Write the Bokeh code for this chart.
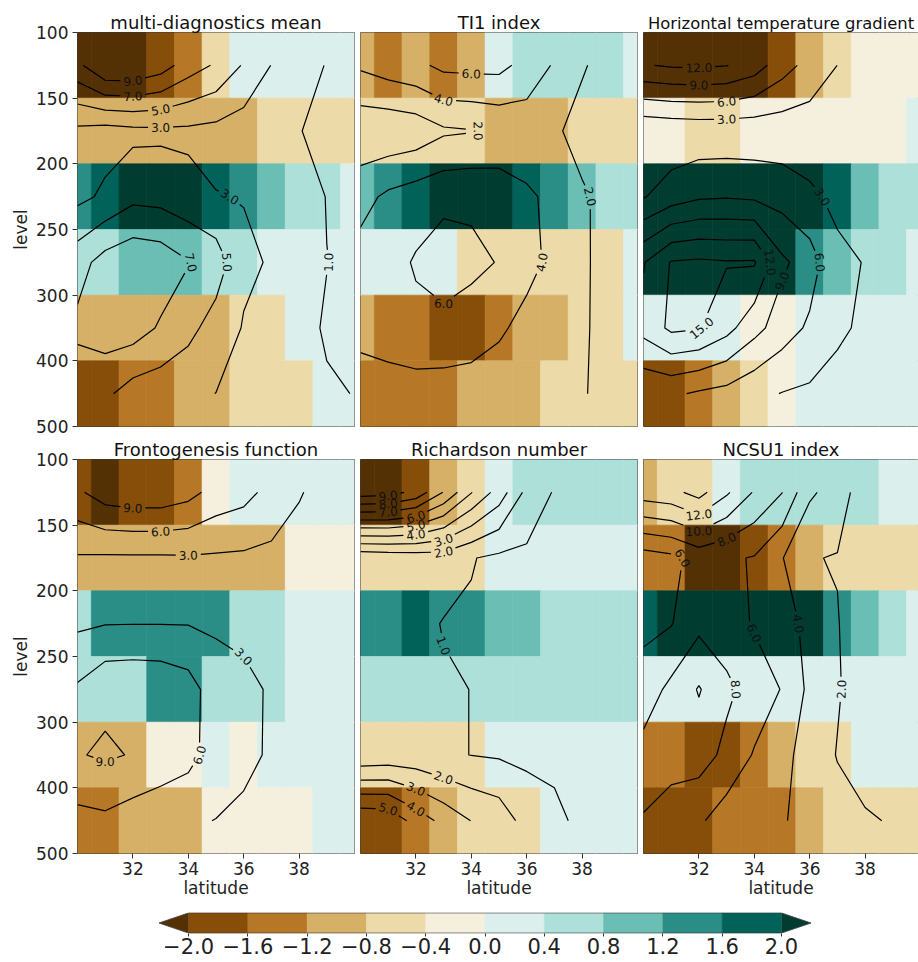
import math
import numpy as np
from bokeh.plotting import figure
from bokeh.models import Range1d, FixedTicker, LinearColorMapper, ColumnDataSource
from bokeh.layouts import column, row
from bokeh.embed import file_html
from bokeh.resources import INLINE
from bokeh.core.properties import value

try:
    from bokeh.plotting.contour import contour_data
except Exception:  # pragma: no cover
    contour_data = None

FONT = "DejaVu Sans"

# ---------------------------------------------------------------- data
latitudes = [30, 31, 32, 33, 34, 35, 36, 37, 38, 39, 40]
level_edges = [100, 150, 200, 250, 300, 400, 500]
lat_ticks = [32, 34, 36, 38]
cbar_bounds = [-2.0, -1.6, -1.2, -0.8, -0.4, 0.0, 0.4, 0.8, 1.2, 1.6, 2.0]
cbar_palette = ["#874e0a", "#b67826", "#d6b067", "#eddaa9", "#f5efde",
                "#dbefec", "#ade0d8", "#6bbeb3", "#2b8e86", "#01625a"]
under_color = "#543005"
over_color = "#003c30"

panel_titles = ["multi-diagnostics mean", "TI1 index", "Horizontal temperature gradient",
                "Frontogenesis function", "Richardson number", "NCSU1 index"]
title_sizes = [18, 18, 16.4, 18, 18, 18]

# shaded anomalies: rows = layers 100-150,150-200,200-250,250-300,300-400,400-500; cols = latitudes
shade_mean = [
    [-2.2, -2.2, -2.2, -1.8, -1.4, -0.6, 0.2, 0.2, 0.2, 0.2, 0.2],
    [-1.0, -1.0, -1.0, -1.0, -1.0, -1.0, -1.0, -0.6, -0.6, -0.6, -0.6],
    [1.4, 1.8, 2.2, 2.2, 2.2, 1.8, 1.4, 1.0, 0.6, 0.6, 0.2],
    [0.6, 0.6, 1.0, 1.0, 1.0, 0.6, 0.6, 0.2, 0.2, 0.2, 0.2],
    [-1.0, -1.0, -1.0, -1.0, -1.0, -1.0, -0.6, -0.6, 0.2, 0.2, 0.2],
    [-1.8, -1.8, -1.4, -1.4, -1.0, -1.0, -0.6, -0.6, -0.6, 0.2, 0.2],
]
shade_ti1 = [
    [-1.0, -1.4, -1.0, -1.4, -1.0, 0.2, 0.6, 0.6, 0.6, 0.6, 0.2],
    [-0.6, -0.6, -0.6, -0.6, -0.6, -1.0, -1.0, -1.0, -0.6, -0.6, -0.6],
    [1.0, 1.4, 1.8, 2.2, 2.2, 2.2, 1.8, 1.4, 1.0, 0.6, 0.6],
    [0.2, 0.2, 0.2, 0.2, -0.6, -0.6, -0.6, -0.6, -0.6, -0.6, 0.2],
    [-1.0, -1.4, -1.4, -1.8, -1.8, -1.4, -1.0, -1.0, -0.6, -0.6, 0.2],
    [-1.4, -1.4, -1.4, -1.4, -1.0, -1.0, -1.0, -0.6, -0.6, -0.6, -0.6],
]
shade_htg = [
    [-2.2, -2.2, -2.2, -2.2, -2.2, -1.8, -1.0, -0.6, -0.2, -0.2, -0.2],
    [-0.2, -0.2, -0.6, -0.6, -0.2, -0.2, -0.2, -0.2, -0.2, -0.2, 0.2],
    [2.2, 2.2, 2.2, 2.2, 2.2, 2.2, 2.2, 1.8, 1.0, 0.6, 0.6],
    [2.2, 2.2, 2.2, 2.2, 2.2, 2.2, 1.4, 1.0, 0.6, 0.6, 0.2],
    [0.2, 0.2, 0.2, 0.2, -0.2, -0.2, 0.2, 0.2, 0.2, 0.2, 0.2],
    [-1.8, -1.8, -1.4, -1.0, -0.6, -0.2, 0.2, 0.2, 0.2, 0.2, 0.2],
]
shade_fronto = [
    [-1.8, -2.2, -1.8, -1.8, -1.4, -0.2, 0.2, 0.2, 0.2, 0.2, 0.2],
    [-1.0, -1.0, -1.0, -1.0, -1.0, -1.0, -1.0, -1.0, -0.2, -0.2, -0.2],
    [0.6, 1.4, 1.4, 1.4, 1.4, 1.4, 0.6, 0.6, 0.2, 0.2, 0.2],
    [0.6, 0.6, 0.6, 1.4, 1.4, 0.6, 0.6, 0.6, 0.2, 0.2, 0.2],
    [-1.0, -1.0, -1.0, -0.2, -0.2, 0.2, -0.2, 0.2, 0.2, 0.2, 0.2],
    [-1.4, -1.4, -1.0, -1.0, -1.0, -0.2, -0.2, -0.2, -0.2, 0.2, 0.2],
]
shade_rich = [
    [-2.2, -2.2, -1.8, -1.0, -0.6, 0.2, 0.6, 0.6, 0.6, 0.6, 0.6],
    [-0.6, -0.6, -0.6, -0.6, -0.6, 0.2, 0.2, 0.2, 0.2, 0.2, 0.2],
    [1.4, 1.4, 1.8, 1.4, 1.4, 1.0, 1.0, 0.6, 0.6, 0.6, 0.6],
    [0.6, 0.6, 0.6, 0.6, 0.6, 0.6, 0.6, 0.6, 0.6, 0.6, 0.6],
    [-0.6, -0.6, -0.6, -0.6, -0.6, 0.2, 0.2, 0.2, 0.2, 0.2, 0.2],
    [-1.8, -1.8, -1.4, -1.0, -0.6, -0.6, -0.6, 0.2, 0.2, 0.2, 0.2],
]
shade_ncsu = [
    [-1.0, -0.6, -0.6, 0.2, 0.6, 0.6, 0.6, 0.6, 0.6, 0.2, 0.2],
    [-1.4, -1.4, -2.2, -2.2, -1.8, -1.4, -1.0, -0.6, -0.6, -0.6, -0.6],
    [1.8, 2.2, 2.2, 2.2, 2.2, 2.2, 2.2, 1.4, 1.0, 0.6, 0.2],
    [0.2, 0.2, 0.2, 0.2, 0.2, 0.2, 0.2, 0.2, 0.2, 0.2, 0.2],
    [-1.4, -1.4, -1.8, -1.8, -1.4, -1.0, -0.6, -0.6, 0.2, 0.2, 0.2],
    [-1.8, -1.8, -1.8, -1.4, -1.4, -1.4, -1.0, -0.6, -0.6, -0.6, -0.6],
]

# contoured fields at layer mid-points (same rows / columns)
contour_mean = [
    [8.5, 11.0, 11.0, 10.0, 8.0, 6.75, 4.8, 2.95, 1.9, 0.9, 0.7],
    [2.55, 2.2, 2.5, 2.6, 2.6, 2.4, 2.0, 1.6, 1.1, 0.2, 0.3],
    [2.48, 3.34, 4.5, 4.34, 3.7, 3.07, 2.93, 2.2, 1.8, 0.95, 0.6],
    [6.2, 7.8, 8.5, 8.2, 7.1, 6.1, 3.35, 2.85, 1.8, 1.02, 0.7],
    [7.45, 8.02, 7.98, 6.75, 5.6, 4.1, 2.88, 2.2, 1.3, 0.9, 0.6],
    [5.65, 5.4, 4.07, 3.8, 3.4, 2.98, 2.5, 2.0, 1.6, 1.1, 0.98],
]
contour_ti1 = [
    [4.3, 5.0, 5.5, 6.5, 6.6, 6.6, 5.3, 3.79, 2.4, 0.4, 0.3],
    [0.55, 0.5, 0.77, 1.71, 1.9, 2.3, 2.8, 2.6, 0.6, 0.3, 0.3],
    [3.3, 4.4, 5.0, 5.5, 5.6, 5.3, 4.3, 3.55, 2.5, 0.8, 0.5],
    [4.8, 5.2, 6.2, 7.0, 6.5, 5.9, 4.6, 3.5, 2.6, 0.6, 0.4],
    [4.9, 5.3, 5.5, 5.4, 5.0, 4.3, 3.4, 3.0, 2.5, 0.7, 0.4],
    [2.5, 2.8, 3.1, 3.1, 3.1, 2.9, 2.8, 2.6, 2.3, 0.8, 0.4],
]
contour_htg = [
    [11.8, 12.3, 12.4, 12.1, 10.5, 7.3, 4.94, 2.98, 2.0, 1.5, 1.2],
    [0.5, 0.8, 1.0, 1.0, 1.0, 1.2, 1.4, 1.6, 1.5, 1.3, 1.2],
    [2.8, 4.5, 5.6, 5.8, 5.5, 4.8, 3.5, 2.4, 1.8, 1.5, 1.3],
    [11.8, 15.2, 15.5, 15.2, 15.3, 9.6, 7.4, 3.6, 2.9, 2.0, 1.6],
    [13.0, 15.6, 15.2, 13.0, 10.0, 7.5, 5.5, 3.5, 2.5, 1.8, 1.5],
    [6.5, 6.5, 5.6, 5.0, 3.8, 2.9, 2.5, 2.0, 1.6, 1.4, 1.2],
]
contour_fronto = [
    [8.5, 10.5, 11.0, 11.0, 10.0, 7.9, 7.0, 5.0, 3.2, 2.0, 1.8],
    [2.7, 2.6, 2.6, 2.6, 2.7, 2.6, 2.5, 2.3, 1.9, 1.5, 1.4],
    [2.5, 2.9, 2.95, 2.95, 2.9, 2.6, 2.3, 2.0, 1.6, 1.4, 1.3],
    [6.4, 8.3, 8.5, 8.3, 7.3, 4.35, 3.7, 2.7, 1.8, 1.5, 1.3],
    [8.8, 9.4, 8.83, 8.0, 7.0, 4.5, 3.6, 2.7, 1.8, 1.5, 1.3],
    [5.1, 5.4, 4.5, 3.8, 3.3, 2.95, 2.5, 2.2, 1.8, 1.5, 1.3],
]
contour_rich = [
    [9.5, 9.4, 8.7, 6.95, 5.05, 3.55, 1.72, 0.92, 0.6, 0.5, 0.5],
    [1.2, 1.3, 1.4, 1.5, 1.05, 0.8, 0.8, 0.7, 0.6, 0.5, 0.5],
    [1.5, 1.4, 1.3, 0.95, 0.9, 0.85, 0.8, 0.7, 0.6, 0.5, 0.5],
    [1.6, 1.5, 1.4, 1.1, 0.99, 0.9, 0.8, 0.7, 0.6, 0.5, 0.5],
    [1.2, 1.3, 1.3, 1.1, 0.99, 0.9, 0.8, 0.7, 0.6, 0.5, 0.5],
    [5.9, 5.8, 4.6, 3.7, 2.98, 2.6, 1.6, 1.3, 0.7, 0.5, 0.5],
]
contour_ncsu = [
    [13.0, 13.4, 14.73, 12.3, 9.8, 8.05, 4.32, 3.13, 0.73, 0.6, 0.5],
    [5.0, 5.5, 6.7, 6.3, 5.87, 4.1, 2.1, 1.9, 0.7, 0.6, 0.5],
    [5.5, 5.9, 7.5, 7.0, 5.8, 4.3, 3.8, 2.1, 0.7, 0.6, 0.5],
    [6.9, 8.5, 10.15, 8.4, 7.2, 5.9, 3.53, 2.2, 0.8, 0.6, 0.5],
    [8.7, 9.0, 8.9, 7.5, 5.83, 4.5, 3.3, 1.9, 0.8, 0.6, 0.5],
    [7.9, 6.8, 6.3, 5.0, 4.6, 4.2, 3.2, 2.8, 2.3, 1.8, 1.5],
]

levels_mean = [1, 3, 5, 7, 9]
levels_ti1 = [2, 4, 6]
levels_htg = [3, 6, 9, 12, 15]
levels_fronto = [3, 6, 9]
levels_rich = [1, 2, 3, 4, 5, 6, 7, 8, 9]
levels_ncsu = [2, 4, 6, 8, 10, 12, 14]

shades = [shade_mean, shade_ti1, shade_htg, shade_fronto, shade_rich, shade_ncsu]
contours = [contour_mean, contour_ti1, contour_htg, contour_fronto, contour_rich, contour_ncsu]
levels_all = [levels_mean, levels_ti1, levels_htg, levels_fronto, levels_rich, levels_ncsu]

# ---------------------------------------------------------------- helpers
x0 = float(latitudes[0])
ypos = np.arange(len(level_edges), dtype=float)
row_centers = (ypos[:-1] + ypos[1:]) / 2.0
FRAME_H = 394
FULL_W = 277
LABEL_FS = 12

mapper = LinearColorMapper(palette=cbar_palette, low=cbar_bounds[0], high=cbar_bounds[-1],
                           low_color=under_color, high_color=over_color)


def split_nan(xs, ys):
    out = []
    bad = np.isnan(xs) | np.isnan(ys)
    start = 0
    for k in list(np.where(bad)[0]) + [len(xs)]:
        if k - start >= 2:
            out.append((xs[start:k], ys[start:k]))
        start = k + 1
    return out


def contour_paths(z, levels):
    x = np.array(latitudes, dtype=float)
    zz = np.array(z, dtype=float)
    out = []
    try:
        cd = contour_data(x, row_centers, zz, levels, want_fill=False, want_line=True)
        for lev, xs, ys in zip(levels, cd.line_data.xs, cd.line_data.ys):
            xs = np.asarray(xs, dtype=float)
            ys = np.asarray(ys, dtype=float)
            for a, b in split_nan(xs, ys):
                out.append((lev, a, b))
    except Exception:
        import contourpy
        gen = contourpy.contour_generator(x, row_centers, zz, line_type="Separate")
        out = []
        for lev in levels:
            for pts in gen.lines(lev):
                out.append((lev, pts[:, 0], pts[:, 1]))
    return out


def text_width(txt, fs):
    return sum(0.318 if ch == "." else 0.636 for ch in txt) * fs


def split_for_label(X, Y, w, spacing=3.0):
    X = np.asarray(X, dtype=float)
    Y = np.asarray(Y, dtype=float)
    n = len(X)
    closed = n > 3 and abs(X[0] - X[-1]) < 1e-9 and abs(Y[0] - Y[-1]) < 1e-9
    if closed:
        # start closed loops at their top-most vertex
        j = int(np.argmin(Y[:-1]))
        X = np.concatenate([np.roll(X[:-1], -j), [X[:-1][j]]])
        Y = np.concatenate([np.roll(Y[:-1], -j), [Y[:-1][j]]])
    idx = n // 2
    d = np.hypot(np.diff(X), np.diff(Y))
    s = np.concatenate([[0.0], np.cumsum(d)])
    L = s[-1]
    sl = s[idx]
    if closed:
        XX = np.concatenate([X, X[1:], X[1:]])
        YY = np.concatenate([Y, Y[1:], Y[1:]])
        ss = np.concatenate([s, s[1:] + L, s[1:] + 2 * L])
        sl = sl + L
    else:
        XX, YY, ss = X, Y, s

    def at(t):
        t = min(max(t, ss[0]), ss[-1])
        k = int(np.searchsorted(ss, t, side="right") - 1)
        k = min(max(k, 0), len(ss) - 2)
        seg = ss[k + 1] - ss[k]
        f = 0.0 if seg == 0 else (t - ss[k]) / seg
        return XX[k] + f * (XX[k + 1] - XX[k]), YY[k] + f * (YY[k + 1] - YY[k])

    def sub(a, b):
        pts = [at(a)] + [(XX[i], YY[i]) for i in range(len(ss)) if a < ss[i] < b] + [at(b)]
        return [p[0] for p in pts], [p[1] for p in pts]

    x1, y1 = at(sl - w / 2)
    x2, y2 = at(sl + w / 2)
    ang = math.degrees(math.atan2(-(y2 - y1), x2 - x1))
    ang = (ang + 90.0) % 180.0 - 90.0
    g = w / 2 + spacing
    pieces = []
    if closed:
        if L > 2 * g:
            pieces.append(sub(sl + g, sl - g + L))
    else:
        if sl - g > 0:
            pieces.append(sub(0.0, sl - g))
        if sl + g < L:
            pieces.append(sub(sl + g, L))
    return pieces, at(sl), math.radians(ang)


def style_axis(ax, fs="17px"):
    ax.major_label_text_font = FONT
    ax.major_label_text_font_size = fs
    ax.major_label_text_color = "#222222"
    ax.axis_label_text_font = FONT
    ax.axis_label_text_font_size = fs
    ax.axis_label_text_font_style = "normal"
    ax.axis_label_text_color = "#222222"
    ax.major_tick_in = 0
    ax.major_tick_out = 5
    ax.minor_tick_in = 0
    ax.minor_tick_out = 0
    ax.major_tick_line_color = "#333333"
    ax.axis_line_color = None


def make_panel(k):
    col, rw = k % 3, k // 3
    fw = FULL_W if col < 2 else 275
    span = (latitudes[-1] - latitudes[0]) * fw / FULL_W
    p = figure(frame_width=fw, frame_height=FRAME_H,
               x_range=Range1d(x0, x0 + span), y_range=Range1d(ypos[-1], ypos[0]),
               output_backend="svg", toolbar_location=None,
               min_border_left=77 if col == 0 else 3,
               min_border_right=3 if col < 2 else 0,
               min_border_top=32 if rw == 0 else 21,
               min_border_bottom=10 if rw == 0 else 44,
               background_fill_color="white", border_fill_color="white")
    half = (latitudes[1] - latitudes[0]) / 2.0
    L, R, T, B, V = [], [], [], [], []
    for r, vals in enumerate(shades[k]):
        for c, v in enumerate(vals):
            L.append(latitudes[c] - half)
            R.append(latitudes[c] + half)
            T.append(ypos[r])
            B.append(ypos[r + 1])
            V.append(v)
    src = ColumnDataSource(dict(left=L, right=R, top=T, bottom=B, v=V))
    p.quad(left="left", right="right", top="top", bottom="bottom", source=src,
           fill_color={"field": "v", "transform": mapper},
           line_color={"field": "v", "transform": mapper}, line_width=0.7)

    sx = fw / span
    sy = FRAME_H / (ypos[-1] - ypos[0])
    lx, ly = [], []
    tx, ty, tt, ta = [], [], [], []
    for lev, xs, ys in contour_paths(contours[k], levels_all[k]):
        X = (xs - x0) * sx
        Y = (ys - ypos[0]) * sy
        txt = f"{lev:.1f}"
        w = text_width(txt, LABEL_FS)
        if max(np.ptp(X), np.ptp(Y)) <= 1.2 * w:
            lx.append(list(xs))
            ly.append(list(ys))
            continue
        pieces, (cx, cy), ang = split_for_label(X, Y, w)
        for PX, PY in pieces:
            lx.append(list(np.array(PX) / sx + x0))
            ly.append(list(np.array(PY) / sy + ypos[0]))
        tx.append(cx / sx + x0)
        ty.append(cy / sy + ypos[0])
        tt.append(txt)
        ta.append(ang)
    p.multi_line(xs=lx, ys=ly, line_color="black", line_width=1.2)
    p.text(x=tx, y=ty, text=tt, angle=ta, text_font=value(FONT),
           text_font_size=f"{LABEL_FS}px", text_align="center", text_baseline="middle",
           text_color="#111111")

    p.xgrid.visible = False
    p.ygrid.visible = False
    p.outline_line_color = "#3a3a3a"
    p.outline_line_width = 1

    if col == 0:
        ax = p.yaxis[0]
        ax.ticker = FixedTicker(ticks=[int(v) for v in ypos])
        ax.major_label_overrides = {int(v): str(lv) for v, lv in zip(ypos, level_edges)}
        ax.axis_label = "level"
        style_axis(ax)
        ax.major_label_standoff = 4
        ax.axis_label_standoff = 2
    else:
        p.yaxis.visible = False
    if rw == 1:
        ax = p.xaxis[0]
        ax.ticker = FixedTicker(ticks=lat_ticks)
        ax.axis_label = "latitude"
        style_axis(ax)
        ax.major_label_standoff = 3
        ax.axis_label_standoff = 0
    else:
        p.xaxis.visible = False

    p.title.text = panel_titles[k]
    p.title.align = "center"
    p.title.text_font = FONT
    p.title.text_font_size = f"{title_sizes[k]}px"
    p.title.text_font_style = "normal"
    p.title.text_color = "#111111"
    p.title.standoff = 0
    return p


panels = [make_panel(k) for k in range(6)]

# ---------------------------------------------------------------- colour bar
ext = 0.2
b0, b1 = cbar_bounds[0], cbar_bounds[-1]
cb = figure(frame_width=655, frame_height=21,
            x_range=Range1d(b0 - ext - 0.01, b1 + ext + 0.01), y_range=Range1d(-0.02, 1.02),
            output_backend="svg", toolbar_location=None,
            min_border_left=157, min_border_right=106, min_border_top=12, min_border_bottom=26,
            background_fill_color="white", border_fill_color="white")
cb.quad(left=cbar_bounds[:-1], right=cbar_bounds[1:], bottom=0, top=1,
        fill_color=cbar_palette, line_color=cbar_palette, line_width=0.5)
cb.patches(xs=[[b0, b0 - ext, b0], [b1, b1 + ext, b1]], ys=[[0, 0.5, 1], [0, 0.5, 1]],
           fill_color=[under_color, over_color], line_color=None)
cb.patch(x=[b0, b1, b1 + ext, b1, b0, b0 - ext, b0], y=[0, 0, 0.5, 1, 1, 0.5, 0],
         fill_alpha=0, line_color="#3a3a3a", line_width=0.8)
cb.grid.visible = False
cb.yaxis.visible = False
cb.outline_line_color = None
cax = cb.xaxis[0]
cax.ticker = FixedTicker(ticks=cbar_bounds)
cax.major_label_overrides = {b: f"{b:.1f}".replace("-", "\u2212") for b in cbar_bounds}
style_axis(cax, fs="21px")
cax.major_tick_out = 3
cax.major_label_standoff = 1

layout = column(row(*panels[:3]), row(*panels[3:]), cb)

open("out.html", "w").write(file_html(layout, INLINE))
